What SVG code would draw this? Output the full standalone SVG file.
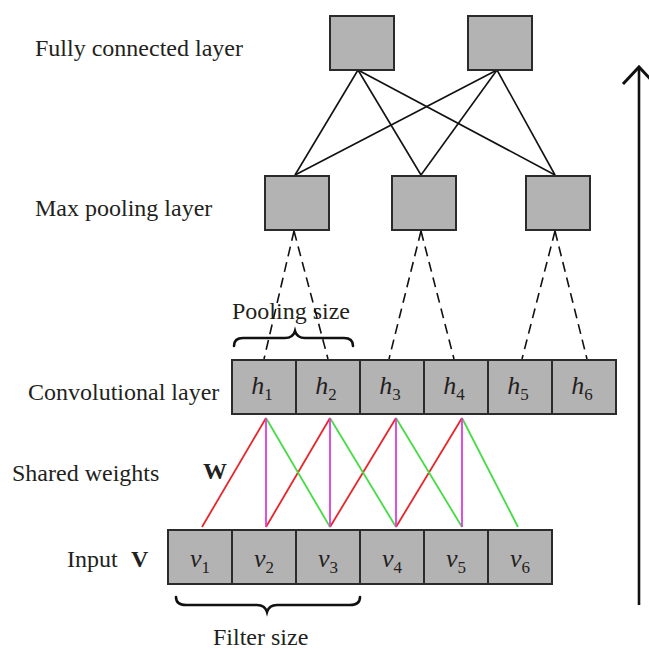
<svg xmlns="http://www.w3.org/2000/svg" width="649" height="651" viewBox="0 0 649 651">
<style>
.box{fill:#b3b3b3;stroke:#2b2b2b;stroke-width:2}
.lbl{font-family:"Liberation Serif","Times New Roman",serif;font-size:24px;fill:#231f20}
.b{font-weight:bold}
.cell{font-family:"Liberation Serif","Times New Roman",serif;font-size:26px;fill:#231f20;text-anchor:middle}
.it{font-style:italic}
.sub{font-size:17px}
.fc{stroke:#111;stroke-width:1.6;fill:none}
.dash{stroke:#111;stroke-width:1.6;fill:none;stroke-dasharray:10 6}
.red{stroke:#e8262a;stroke-width:1.8}
.grn{stroke:#45dc45;stroke-width:1.8}
.mag{stroke:#e03ae0;stroke-width:1.8}
.brace{stroke:#111;stroke-width:2.6;fill:none;stroke-linecap:round}
</style>

<g id="labels">
<text class="lbl" x="35" y="56">Fully connected layer</text>
<text class="lbl" x="35" y="216">Max pooling layer</text>
<text class="lbl" x="28" y="400">Convolutional layer</text>
<text class="lbl" x="12" y="481">Shared weights</text>
<text class="lbl b" x="203" y="479">W</text>
<text class="lbl" x="67" y="567">Input</text>
<text class="lbl b" x="131" y="567">V</text>
<text class="lbl" x="232" y="319">Pooling size</text>
<text class="lbl" x="213" y="645">Filter size</text>
</g>

<g id="connectors">
<g id="fc-links">
<line class="fc" x1="358" y1="70" x2="295" y2="175"/>
<line class="fc" x1="358" y1="70" x2="421" y2="175"/>
<line class="fc" x1="358" y1="70" x2="555" y2="175"/>
<line class="fc" x1="497" y1="70" x2="295" y2="175"/>
<line class="fc" x1="497" y1="70" x2="421" y2="175"/>
<line class="fc" x1="497" y1="70" x2="555" y2="175"/>
</g>
<g id="pool-links">
<line class="dash" x1="294" y1="231" x2="264" y2="359"/>
<line class="dash" x1="294" y1="231" x2="328" y2="359"/>
<line class="dash" x1="421" y1="231" x2="389" y2="359"/>
<line class="dash" x1="421" y1="231" x2="454" y2="359"/>
<line class="dash" x1="555" y1="231" x2="522" y2="359"/>
<line class="dash" x1="555" y1="231" x2="587" y2="359"/>
</g>
<g id="weights">
<line class="red" x1="202" y1="527" x2="266" y2="418"/>
<line class="red" x1="266" y1="527" x2="330" y2="418"/>
<line class="red" x1="330" y1="527" x2="396" y2="418"/>
<line class="red" x1="396" y1="527" x2="462" y2="418"/>
<line class="grn" x1="266" y1="418" x2="330" y2="527"/>
<line class="grn" x1="330" y1="418" x2="396" y2="527"/>
<line class="grn" x1="396" y1="418" x2="462" y2="527"/>
<line class="grn" x1="462" y1="418" x2="518" y2="527"/>
<line class="mag" x1="266" y1="418" x2="266" y2="527"/>
<line class="mag" x1="330" y1="418" x2="330" y2="527"/>
<line class="mag" x1="396" y1="418" x2="396" y2="527"/>
<line class="mag" x1="462" y1="418" x2="462" y2="527"/>
</g>
<g id="direction-arrow">
<line x1="639" y1="605" x2="639" y2="67" stroke="#111" stroke-width="2.6"/>
<polyline points="623,84 639,67 655,84" fill="none" stroke="#111" stroke-width="3"/>
</g>
</g>

<g id="braces">
<path class="brace" d="M234,346 Q234,338 243,338 L285,338 Q293,338 295,331 Q297,338 305,338 L344,338 Q353,338 353,346"/>
<path class="brace" d="M176,597 Q176,605 186,605 L257,605 Q265,605 267,612 Q269,605 277,605 L350,605 Q360,605 360,597"/>
</g>

<g id="fc1"><rect class="box" x="330" y="16" width="64" height="54"/></g>
<g id="fc2"><rect class="box" x="468" y="16" width="64" height="54"/></g>

<g id="pool1"><rect class="box" x="265" y="176" width="64" height="54"/></g>
<g id="pool2"><rect class="box" x="392" y="176" width="64" height="54"/></g>
<g id="pool3"><rect class="box" x="526" y="176" width="64" height="54"/></g>

<g id="h1"><rect class="box" x="232" y="360" width="64" height="54"/><text class="cell" x="262" y="394"><tspan class="it">h</tspan><tspan class="sub" dy="6">1</tspan></text></g>
<g id="h2"><rect class="box" x="296" y="360" width="64" height="54"/><text class="cell" x="326" y="394"><tspan class="it">h</tspan><tspan class="sub" dy="6">2</tspan></text></g>
<g id="h3"><rect class="box" x="360" y="360" width="64" height="54"/><text class="cell" x="390" y="394"><tspan class="it">h</tspan><tspan class="sub" dy="6">3</tspan></text></g>
<g id="h4"><rect class="box" x="424" y="360" width="64" height="54"/><text class="cell" x="454" y="394"><tspan class="it">h</tspan><tspan class="sub" dy="6">4</tspan></text></g>
<g id="h5"><rect class="box" x="488" y="360" width="64" height="54"/><text class="cell" x="518" y="394"><tspan class="it">h</tspan><tspan class="sub" dy="6">5</tspan></text></g>
<g id="h6"><rect class="box" x="552" y="360" width="64" height="54"/><text class="cell" x="582" y="394"><tspan class="it">h</tspan><tspan class="sub" dy="6">6</tspan></text></g>

<g id="v1"><rect class="box" x="168" y="530" width="64" height="54"/><text class="cell" x="200" y="567"><tspan class="it">v</tspan><tspan class="sub" dy="6">1</tspan></text></g>
<g id="v2"><rect class="box" x="232" y="530" width="64" height="54"/><text class="cell" x="264" y="567"><tspan class="it">v</tspan><tspan class="sub" dy="6">2</tspan></text></g>
<g id="v3"><rect class="box" x="296" y="530" width="64" height="54"/><text class="cell" x="328" y="567"><tspan class="it">v</tspan><tspan class="sub" dy="6">3</tspan></text></g>
<g id="v4"><rect class="box" x="360" y="530" width="64" height="54"/><text class="cell" x="392" y="567"><tspan class="it">v</tspan><tspan class="sub" dy="6">4</tspan></text></g>
<g id="v5"><rect class="box" x="424" y="530" width="64" height="54"/><text class="cell" x="456" y="567"><tspan class="it">v</tspan><tspan class="sub" dy="6">5</tspan></text></g>
<g id="v6"><rect class="box" x="488" y="530" width="64" height="54"/><text class="cell" x="520" y="567"><tspan class="it">v</tspan><tspan class="sub" dy="6">6</tspan></text></g>
</svg>
